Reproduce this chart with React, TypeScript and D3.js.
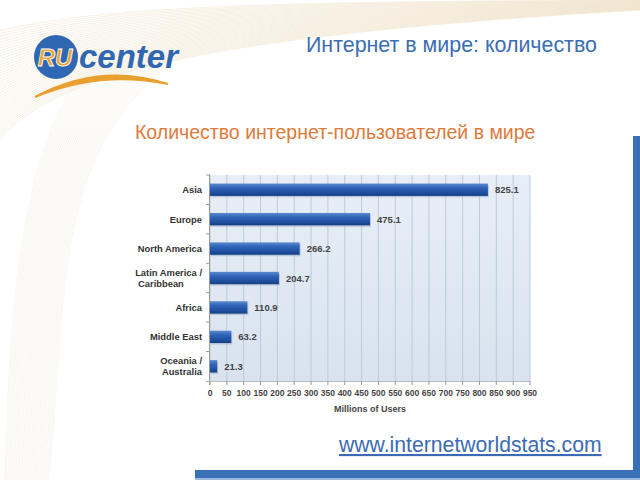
import React from "react";
import * as d3 from "d3";

const categories = ["Asia", "Europe", "North America", "Latin America / Caribbean", "Africa", "Middle East", "Oceania / Australia"];
const categoryLines = [["Asia"], ["Europe"], ["North America"], ["Latin America /", "Caribbean"], ["Africa"], ["Middle East"], ["Oceania  /", "Australia"]];
const values = [825.1, 475.1, 266.2, 204.7, 110.9, 63.2, 21.3];
const tickValues = d3.range(0, 951, 50);

const W = 640, H = 480;
const plot = { left: 210, right: 530, top: 175, bottom: 381 };

export default function App() {
  const x = d3.scaleLinear().domain([0, 950]).range([plot.left, plot.right]);
  const y = d3.scaleBand().domain(categories).range([plot.top, plot.bottom]).paddingInner(0.58).paddingOuter(0.29);
  const bandStep = (plot.bottom - plot.top) / categories.length;

  const deco: string[] = [];
  for (let i = 0; i < 40; i++) {
    const t = i / 40;
    deco.push(`M ${-10} ${150 - i * 3} C ${40 + t * 40} ${90 - i * 2}, ${120 + t * 60} ${40 - i}, ${640} ${10 - i * 0.5 + t * 10}`);
  }
  const deco2: string[] = [];
  for (let i = 0; i < 30; i++) {
    deco2.push(`M ${5 + i * 1.5} 480 C ${10 + i * 2} 300, ${20 + i} 150, ${90 + i * 3} 60`);
  }

  return (
    <svg width={W} height={H} style={{ position: "absolute", left: 0, top: 0, background: "#fff" }} fontFamily="Arial, 'Liberation Sans', sans-serif">
      <defs>
        <linearGradient id="barGrad" x1="0" y1="0" x2="0" y2="1">
          <stop offset="0" stopColor="#5b8ad0" />
          <stop offset="0.35" stopColor="#2f63b8" />
          <stop offset="0.75" stopColor="#1f4f9f" />
          <stop offset="1" stopColor="#163d80" />
        </linearGradient>
        <linearGradient id="bgGrad" x1="0" y1="0" x2="0" y2="1">
          <stop offset="0" stopColor="#e8eef6" />
          <stop offset="1" stopColor="#d8e3ef" />
        </linearGradient>
      </defs>
      <g stroke="#ecdcbf" strokeWidth={0.5} fill="none" opacity={0.8}>
        {deco.map((d, i) => <path key={i} d={d} />)}
      </g>
      <g stroke="#efe3cc" strokeWidth={0.5} fill="none" opacity={0.6}>
        {deco2.map((d, i) => <path key={i} d={d} />)}
      </g>
      {/* logo */}
      <g>
        <circle cx={56} cy={57} r={22} fill="#2f67b2" />
        <text x={55} y={66} textAnchor="middle" fontSize={24} fontWeight="bold" fontStyle="italic" fill="#e9a030" stroke="#fff" strokeWidth={0.8}>RU</text>
        <text x={79} y={68} fontSize={33} fontWeight="bold" fontStyle="italic" fill="#3167b0">center</text>
        <path d="M 35 97 Q 100 62 168 84 Q 100 70 35 97 Z" fill="#e9a030" stroke="#e9a030" strokeWidth={2} />
      </g>
      {/* titles */}
      <text x={306} y={52} fontSize={21.4} fill="#3a6db4">Интернет в мире: количество</text>
      <text x={135} y={139} fontSize={19.5} fill="#e07a3a">Количество интернет-пользователей в мире</text>
      {/* plot background */}
      <rect x={plot.left} y={plot.top} width={plot.right - plot.left} height={plot.bottom - plot.top} fill="url(#bgGrad)" />
      {tickValues.map((t) => (
        <line key={t} x1={x(t)} x2={x(t)} y1={plot.top} y2={plot.bottom} stroke="#bccbdc" strokeWidth={1} />
      ))}
      <line x1={plot.left - 0.5} x2={plot.left - 0.5} y1={plot.top} y2={plot.bottom + 4} stroke="#999" />
      {categories.map((_, i) => (
        <line key={i} x1={plot.left - 4} x2={plot.left} y1={plot.top + i * bandStep} y2={plot.top + i * bandStep} stroke="#999" />
      ))}
      <line x1={plot.left - 4} x2={plot.right} y1={plot.bottom + 0.5} y2={plot.bottom + 0.5} stroke="#bbb" />
      {tickValues.map((t) => (
        <line key={"t" + t} x1={x(t)} x2={x(t)} y1={plot.bottom} y2={plot.bottom + 4} stroke="#999" />
      ))}
      {/* bars */}
      {categories.map((c, i) => (
        <g key={c}>
          <rect x={x(0) + 1} y={(y(c) as number) + 1.5} width={x(values[i]) - x(0)} height={y.bandwidth()} fill="#9fb3cc" opacity={0.6} />
          <rect x={x(0)} y={y(c)} width={x(values[i]) - x(0)} height={y.bandwidth()} fill="url(#barGrad)" />
          <text x={x(values[i]) + 7} y={(y(c) as number) + y.bandwidth() / 2 + 3.5} fontSize={9.5} fontWeight="bold" fill="#444">{values[i].toFixed(1)}</text>
        </g>
      ))}
      {/* category labels */}
      {categoryLines.map((lines, i) => {
        const cy = (y(categories[i]) as number) + y.bandwidth() / 2;
        const off = (lines.length - 1) * 5.5;
        return (
          <text key={i} fontSize={9.4} fontWeight="bold" fill="#333">
            {lines.map((l, j) => {
              const isCarib = i === 3 && j === 1;
              return (
                <tspan key={j} x={isCarib ? 138 : 202} textAnchor={isCarib ? "start" : "end"} y={cy + 3.5 - off + j * 11}>{l}</tspan>
              );
            })}
          </text>
        );
      })}
      {/* x tick labels */}
      {tickValues.map((t) => (
        <text key={"l" + t} x={x(t)} y={396} fontSize={8.5} fontWeight="bold" fill="#444" textAnchor="middle">{t}</text>
      ))}
      <text x={370} y={412} fontSize={9} fontWeight="bold" fill="#444" textAnchor="middle">Millions of Users</text>
      {/* url */}
      <text x={339} y={452} fontSize={21.2} fill="#3a6bb4" textDecoration="underline">www.internetworldstats.com</text>
      {/* frame */}
      <rect x={633} y={136} width={7} height={344} fill="#3a70b8" />
      <rect x={195} y={470} width={445} height={8} fill="#3a70b8" />
      <rect x={195} y={478} width={445} height={2} fill="#9cb8dc" />
    </svg>
  );
}
